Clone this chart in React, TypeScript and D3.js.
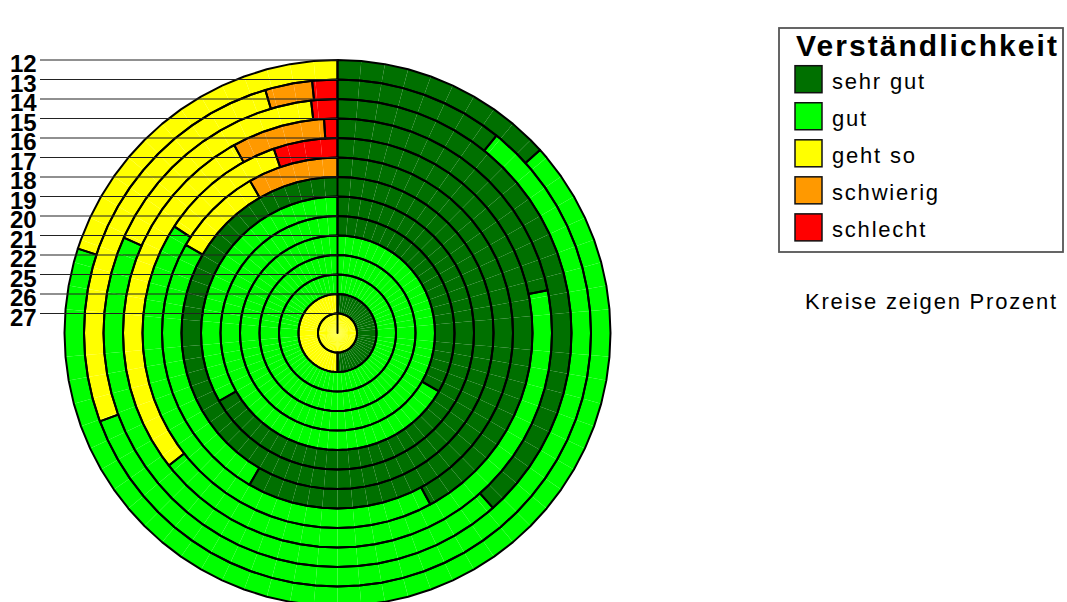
import React from "react";
import * as d3 from "d3";

// ---- data ----
const ages = ["12", "13", "14", "15", "16", "17", "18", "19", "20", "21", "22", "25", "26", "27"];
const categories = ["sehr gut", "gut", "geht so", "schwierig", "schlecht"];
const colors = ["#007000", "#00ff00", "#ffff00", "#ff9900", "#ff0000"];
const sehrGut = [13.3, 10.8, 38.4, 21.8, 42.1, 58.3, 100, 66.7, 33.3, 0, 0, 0, 50, 0];
const gut = [66.7, 58.6, 43.2, 42.6, 42.1, 25.0, 0, 33.3, 66.7, 100, 100, 100, 0, 0];
const gehtSo = [20.0, 26.1, 16.5, 27.6, 10.5, 8.3, 0, 0, 0, 0, 0, 0, 50, 100];
const schwierig = [0, 3.0, 0, 7.0, 0, 8.3, 0, 0, 0, 0, 0, 0, 0, 0];
const schlecht = [0, 1.6, 1.8, 1.0, 5.3, 0, 0, 0, 0, 0, 0, 0, 0, 0];
const series = [sehrGut, gut, gehtSo, schwierig, schlecht];
const legendTitle = "Verständlichkeit";
const note = "Kreise zeigen Prozent";

const W = 1067;
const H = 602;
const cx = 337.5;
const cy = 333;
const R = 273;
const font = "'Liberation Sans', Arial, sans-serif";

export default function App() {
  const rScale = d3.scaleLinear().domain([0, ages.length]).range([R, 0]);
  const pie = d3
    .pie<number>()
    .sort(null)
    .value((d) => d);
  const line = d3
    .lineRadial<[number, number]>()
    .angle((d) => d[0])
    .radius((d) => d[1])
    .curve(d3.curveLinearClosed);
  const step = (2 * Math.PI) / 72;

  const arcAngles = (a0: number, a1: number) => {
    const pts = [a0];
    let k = Math.floor(a0 / step + 1e-9) + 1;
    while (k * step < a1 - 1e-6) {
      pts.push(k * step);
      k++;
    }
    pts.push(a1);
    return pts;
  };

  const rings = ages.map((age, i) => {
    const vals = series.map((s) => s[i]);
    const r1 = rScale(i);
    const r0 = rScale(i + 1);
    const slices = pie(vals)
      .map((p, j) => ({ ...p, j }))
      .filter((p) => p.value > 0);
    return { age, i, r0, r1, slices };
  });

  const facets: JSX.Element[] = [];
  const outlines: JSX.Element[] = [];
  rings.forEach((ring) => {
    ring.slices.forEach((s) => {
      const angs = arcAngles(s.startAngle, s.endAngle);
      for (let k = 0; k < angs.length - 1; k++) {
        const pts: [number, number][] =
          ring.r0 > 0.5
            ? [
                [angs[k], ring.r1],
                [angs[k + 1], ring.r1],
                [angs[k + 1], ring.r0],
                [angs[k], ring.r0],
              ]
            : [
                [angs[k], ring.r1],
                [angs[k + 1], ring.r1],
                [0, 0],
              ];
        facets.push(
          <path key={`f-${ring.i}-${s.j}-${k}`} d={line(pts) || ""} fill={colors[s.j]} stroke="none" />
        );
      }
      const outer = angs.map((a) => [a, ring.r1] as [number, number]);
      const inner: [number, number][] =
        ring.r0 > 0.5 ? angs.slice().reverse().map((a) => [a, ring.r0] as [number, number]) : [[0, 0]];
      outlines.push(
        <path
          key={`o-${ring.i}-${s.j}`}
          d={line([...outer, ...inner]) || ""}
          fill="none"
          stroke="#000"
          strokeWidth={2}
          strokeLinejoin="round"
        />
      );
    });
  });

  const legendY = d3
    .scaleBand()
    .domain(categories)
    .range([62, 245])
    .paddingInner(0.26)
    .paddingOuter(0.1);

  return (
    <svg
      width={W}
      height={H}
      style={{ position: "absolute", left: 0, top: 0, background: "#fff" }}
      fontFamily={font}
    >
      <rect x={0} y={0} width={W} height={H} fill="#fff" />
      <g transform={`translate(${cx},${cy})`}>
        {facets}
        {outlines}
      </g>
      {/* leader lines + labels */}
      {rings.map((ring) => {
        const y = cy - ring.r1;
        return (
          <g key={`lab-${ring.i}`}>
            <line x1={40} x2={cx} y1={y} y2={y} stroke="#222" strokeWidth={1.2} />
            <text x={10} y={y + 12} fontSize={24} fontWeight="bold" fill="#000">
              {ring.age}
            </text>
          </g>
        );
      })}
      {/* legend */}
      <rect x={779} y={28} width={284} height={224} fill="#fff" stroke="#555" strokeWidth={1.8} />
      <text x={796} y={56} fontSize={30} fontWeight="bold" textLength={261} lengthAdjust="spacing">
        {legendTitle}
      </text>
      {categories.map((c, j) => {
        const y = legendY(c) as number;
        return (
          <g key={`leg-${j}`}>
            <rect x={795} y={y} width={27} height={27} fill={colors[j]} stroke="#111" strokeWidth={1.5} />
            <text x={832} y={y + 23} fontSize={22} letterSpacing={1.8} fill="#000">
              {c}
            </text>
          </g>
        );
      })}
      <text x={805} y={309} fontSize={22} letterSpacing={1.8} fill="#000">
        {note}
      </text>
    </svg>
  );
}
